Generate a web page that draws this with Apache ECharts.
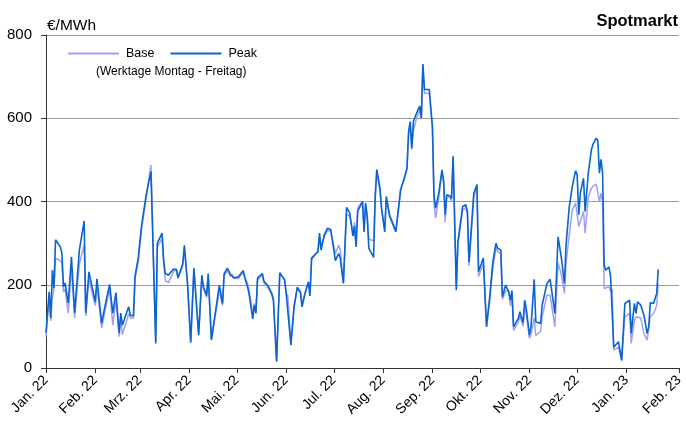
<!DOCTYPE html>
<html>
<head>
<meta charset="utf-8">
<script src="https://cdn.jsdelivr.net/npm/echarts@6/dist/echarts.min.js"></script>
<style>html,body{margin:0;padding:0;background:#fff}#c{width:686px;height:421px}</style>
</head>
<body>
<div id="c"></div>
<script>
const monthNames = ['Jan.','Feb.','Mrz.','Apr.','Mai.','Jun.','Jul.','Aug.','Sep.','Okt.','Nov.','Dez.'];
const yTicks = [0, 200, 400, 600, 800];

const dates = [
'2022-01-01','2022-01-03','2022-01-04','2022-01-05','2022-01-06','2022-01-07','2022-01-10','2022-01-11','2022-01-12','2022-01-13',
'2022-01-15','2022-01-17','2022-01-19','2022-01-22','2022-01-25','2022-01-26','2022-01-28','2022-01-30','2022-02-01','2022-02-02',
'2022-02-05','2022-02-07','2022-02-10','2022-02-12','2022-02-14','2022-02-16','2022-02-17','2022-02-18','2022-02-22','2022-02-23',
'2022-02-25','2022-02-26','2022-02-28','2022-03-02','2022-03-05','2022-03-08','2022-03-11','2022-03-12','2022-03-15','2022-03-16',
'2022-03-17','2022-03-19','2022-03-22','2022-03-24','2022-03-25','2022-03-28','2022-03-29','2022-03-31','2022-04-02','2022-04-04',
'2022-04-07','2022-04-09','2022-04-10','2022-04-12','2022-04-13','2022-04-15','2022-04-20','2022-04-22','2022-04-23','2022-04-25',
'2022-04-27','2022-04-28','2022-04-29','2022-05-02','2022-05-05','2022-05-06','2022-05-08','2022-05-09','2022-05-11','2022-05-12',
'2022-05-13','2022-05-14','2022-05-17','2022-05-18','2022-05-19','2022-05-21','2022-05-23','2022-05-24','2022-05-26','2022-05-28',
'2022-05-31','2022-06-01','2022-06-02','2022-06-04','2022-06-06','2022-06-08','2022-06-10','2022-06-11','2022-06-13','2022-06-15',
'2022-06-16','2022-06-17','2022-06-19','2022-06-21','2022-06-22','2022-06-23','2022-06-25','2022-06-27','2022-06-29','2022-07-02',
'2022-07-04','2022-07-05','2022-07-07','2022-07-09','2022-07-11','2022-07-13','2022-07-14','2022-07-15','2022-07-16','2022-07-19',
'2022-07-20','2022-07-21','2022-07-22','2022-07-23','2022-07-26','2022-07-27','2022-07-28','2022-07-30','2022-07-31','2022-08-02',
'2022-08-03','2022-08-05','2022-08-09','2022-08-12','2022-08-14','2022-08-16','2022-08-17','2022-08-18','2022-08-19','2022-08-20',
'2022-08-22','2022-08-24','2022-08-25','2022-08-26','2022-08-27','2022-08-30','2022-09-01','2022-09-02','2022-09-03','2022-09-05',
'2022-09-07','2022-09-08','2022-09-09','2022-09-10','2022-09-12','2022-09-13','2022-09-14','2022-09-16','2022-09-17','2022-09-20',
'2022-09-22','2022-09-23','2022-09-24','2022-09-27','2022-09-29','2022-09-30','2022-10-03','2022-10-05','2022-10-07','2022-10-09',
'2022-10-11','2022-10-12','2022-10-14','2022-10-15','2022-10-17','2022-10-19','2022-10-20','2022-10-21','2022-10-22','2022-10-25',
'2022-10-26','2022-10-28','2022-10-29','2022-10-30','2022-11-01','2022-11-02','2022-11-04','2022-11-05','2022-11-08','2022-11-09',
'2022-11-10','2022-11-12','2022-11-14','2022-11-17','2022-11-19','2022-11-21','2022-11-23','2022-11-24','2022-11-26','2022-11-28',
'2022-11-30','2022-12-01','2022-12-02','2022-12-03','2022-12-05','2022-12-06','2022-12-08','2022-12-10','2022-12-11','2022-12-13',
'2022-12-14','2022-12-15','2022-12-16','2022-12-17','2022-12-18','2022-12-19','2022-12-21','2022-12-22','2022-12-23','2022-12-24',
'2022-12-27','2022-12-29','2022-12-30','2022-12-31','2023-01-03','2023-01-04','2023-01-06','2023-01-07','2023-01-08','2023-01-10',
'2023-01-12','2023-01-14','2023-01-15','2023-01-16','2023-01-18','2023-01-19','2023-01-20','2023-01-21'
];

const peak = [
85,183,120,235,192,308,291,276,195,204,
156,267,132,284,353,132,231,195,159,214,
108,147,201,132,181,84,132,103,147,127,
125,221,264,339,416,472,59,300,324,258,
227,223,237,237,217,251,295,203,61,240,
79,223,195,174,227,67,199,155,226,240,
225,229,217,219,234,217,191,171,118,151,
131,216,227,209,209,195,179,165,15,229,
211,181,181,55,147,194,181,147,181,207,
173,264,272,279,324,283,320,336,333,258,
275,264,203,386,372,317,341,291,376,400,
327,396,364,288,266,412,477,432,384,327,
412,366,327,428,452,480,568,592,528,592,
612,629,600,730,669,669,580,412,384,420,
476,452,368,416,413,408,509,187,303,388,
392,376,255,420,441,231,264,99,171,255,
300,288,283,171,199,183,163,186,99,119,
135,109,163,143,79,99,213,111,107,151,
155,203,213,131,315,267,203,295,386,437,
474,464,368,420,456,376,468,525,538,552,
546,468,501,468,247,235,243,221,219,50,
63,19,21,155,163,83,155,131,159,151,
127,83,99,157,155,158,179,237
];

const base = [
75,170,113,170,190,264,258,252,183,190,
132,245,120,250,296,125,215,180,150,200,
96,135,190,103,165,75,120,80,130,120,
120,215,255,330,410,488,65,290,312,250,
210,205,230,237,215,245,290,200,65,235,
82,215,190,170,220,70,185,150,220,235,
220,225,215,215,230,220,200,180,130,155,
135,210,225,205,205,190,175,160,20,225,
215,180,175,60,150,190,185,155,180,205,
180,260,270,280,315,295,315,330,330,275,
295,285,205,370,365,325,350,300,385,400,
340,395,360,310,305,405,470,425,380,335,
405,370,330,430,450,478,560,585,525,570,
600,620,600,725,660,660,575,395,360,410,
470,445,350,410,410,400,505,195,295,380,
385,370,245,410,435,220,250,100,160,240,
290,280,275,165,185,185,150,175,90,110,
125,100,150,130,71,80,120,78,88,123,
119,175,175,99,253,225,179,250,320,380,
396,396,340,352,376,324,410,432,437,442,
445,400,420,400,191,187,195,185,190,43,
50,17,20,123,131,59,115,123,125,120,
83,67,67,123,131,139,151,203
];

const peakData = dates.map((d, i) => [d, peak[i]]);
const baseData = dates.map((d, i) => [d, base[i]]);

const chart = echarts.init(document.getElementById('c'), null, {renderer: 'canvas'});
const font = 'Liberation Sans, Arial, sans-serif';
chart.setOption({
  animation: false,
  textStyle: {fontFamily: font},
  grid: {left: 46, right: 0, top: 35, bottom: 53, containLabel: false},
  legend: {
    left: 68, top: 47, padding: 0,
    itemWidth: 51, itemHeight: 2, itemGap: 16,
    icon: 'rect',
    textStyle: {fontFamily: font, fontSize: 12.5, color: '#000', padding: [0, 0, 0, 2]},
    data: ['Base', 'Peak']
  },
  graphic: [
    {type: 'text', left: 96, top: 66, style: {text: '(Werktage Montag - Freitag)', font: '12px ' + font, fill: '#000'}},
    {type: 'text', left: 47, top: 18, style: {text: '€/MWh', font: '15.5px ' + font, fill: '#000'}},
    {type: 'text', right: 8, top: 13, style: {text: 'Spotmarkt', font: 'bold 16.5px ' + font, fill: '#000'}}
  ],
  xAxis: {
    type: 'time',
    min: +new Date(2022, 0, 1),
    max: +new Date(2023, 1, 3),
    minInterval: 28 * 86400000,
    maxInterval: 31 * 86400000,
    splitLine: {show: false},
    axisLine: {lineStyle: {color: '#333', width: 1}},
    axisTick: {show: true, length: 5, lineStyle: {color: '#333'}},
    axisLabel: {
      rotate: 45, fontSize: 14, color: '#000', fontFamily: font, margin: 10,
      showMinLabel: true, showMaxLabel: true,
      formatter: function (v) {
        const d = new Date(v);
        return monthNames[d.getMonth()] + ' ' + String(d.getFullYear()).slice(2);
      }
    }
  },
  yAxis: {
    type: 'value',
    min: yTicks[0], max: yTicks[yTicks.length - 1], interval: 200,
    axisLine: {show: true, lineStyle: {color: '#333', width: 1}},
    axisTick: {show: true, length: 5, lineStyle: {color: '#333'}},
    axisLabel: {fontSize: 15, color: '#000', fontFamily: font, margin: 14},
    splitLine: {show: true, lineStyle: {color: '#999', width: 1}}
  },
  series: [
    {name: 'Base', type: 'line', data: baseData, showSymbol: false, symbol: 'none',
     lineStyle: {color: '#9f9ff5', width: 1.5}, itemStyle: {color: '#9f9ff5'}},
    {name: 'Peak', type: 'line', data: peakData, showSymbol: false, symbol: 'none',
     lineStyle: {color: '#0a64d0', width: 1.6}, itemStyle: {color: '#0a64d0'}}
  ]
});
</script>
</body>
</html>
